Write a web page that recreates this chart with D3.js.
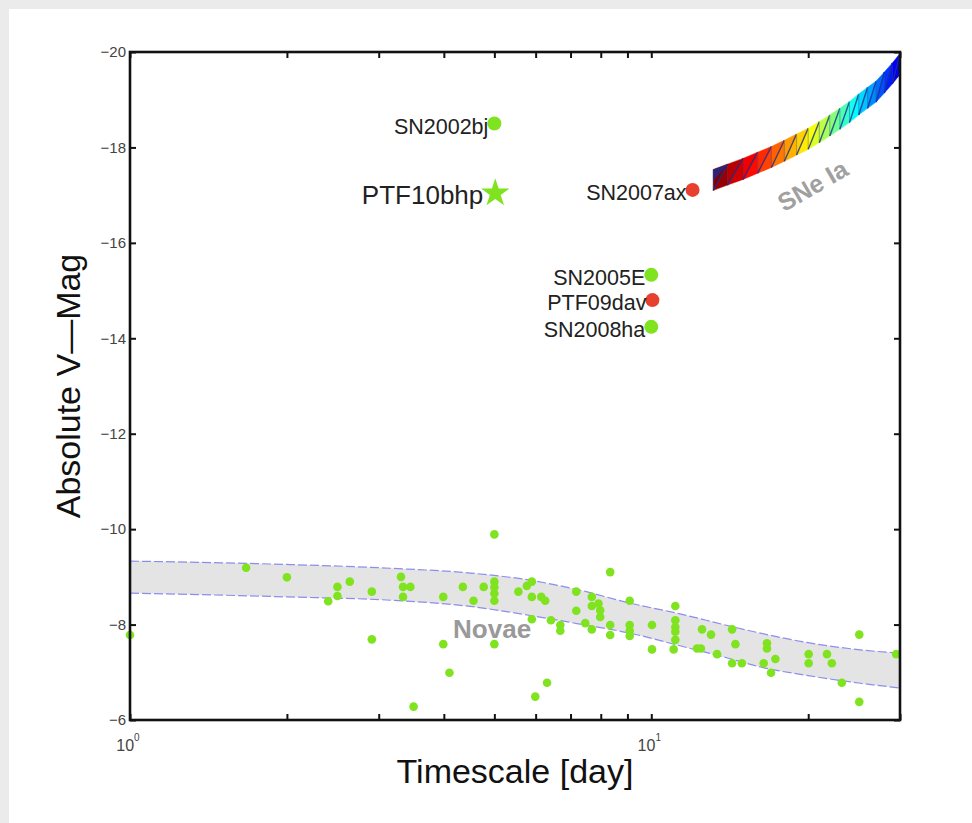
<!DOCTYPE html>
<html>
<head>
<meta charset="utf-8">
<script src="https://cdn.jsdelivr.net/npm/d3@7"></script>
<style>
  html, body { margin: 0; padding: 0; background: #ebebeb; }
  #chart { position: absolute; left: 9px; top: 9px; }
  text { font-family: "Liberation Sans", Arial, Helvetica, sans-serif; }
</style>
</head>
<body>
<div id="chart"></div>
<script>
'use strict';

// named transients (timescale in days, peak absolute V mag)
var greenEvents = [
  {name: "SN2002bj", t: 5.0, mag: -18.5},
  {name: "SN2005E",  t: 10.0, mag: -15.33},
  {name: "SN2008ha", t: 10.0, mag: -14.24}
];
var redEvents = [
  {name: "SN2007ax", t: 12.0, mag: -17.11},
  {name: "PTF09dav", t: 10.05, mag: -14.80}
];
var starEvent = {name: "PTF10bhp", t: 5.02, mag: -17.04};

// novae scatter [timescale, mag]
var novae = [
  [1.0,-7.78],[1.67,-9.19],[2.0,-8.99],[2.40,-8.49],[2.50,-8.79],[2.50,-8.60],[2.64,-8.90],
  [2.91,-8.69],[2.91,-7.69],[3.31,-9.0],[3.34,-8.79],[3.45,-8.79],[3.34,-8.58],[3.50,-6.28],
  [3.99,-7.59],[3.99,-8.58],[4.10,-6.99],[4.35,-8.79],[4.56,-8.50],[4.77,-8.79],[5.0,-9.89],
  [5.0,-8.90],[5.0,-8.78],[5.0,-8.65],[5.0,-8.50],[5.0,-7.59],[5.56,-8.69],[5.77,-8.81],
  [5.90,-8.90],[5.90,-8.58],[5.90,-8.11],[6.15,-8.58],[6.26,-8.50],[5.99,-6.49],[6.31,-6.78],
  [6.42,-8.09],[6.69,-7.99],[6.69,-7.87],[7.18,-8.69],[7.18,-8.29],[7.47,-8.03],[7.69,-7.90],
  [7.69,-8.58],[7.69,-8.39],[7.92,-8.44],[7.98,-8.30],[7.98,-8.16],[8.34,-9.10],[8.34,-7.99],
  [8.34,-7.78],[9.09,-8.50],[9.09,-7.99],[9.09,-7.87],[9.09,-7.76],[10.03,-7.99],[10.03,-7.48],
  [11.12,-8.39],[11.12,-8.09],[11.12,-7.95],[11.12,-7.85],[11.12,-7.68],[11.04,-7.48],
  [12.51,-7.90],[12.24,-7.50],[12.45,-7.50],[13.02,-7.79],[13.37,-7.38],[14.29,-7.90],
  [14.50,-7.59],[14.29,-7.19],[14.92,-7.19],[16.67,-7.61],[16.67,-7.50],[16.43,-7.19],
  [17.3,-7.28],[16.97,-6.99],[20.04,-7.38],[20.04,-7.19],[21.73,-7.38],[22.2,-7.19],
  [23.2,-6.78],[25.06,-7.79],[25.06,-6.38],[29.5,-7.38]
];

// novae band edges
var novaeBandT     = [1, 2, 3.16, 4.5, 5.86, 7.3, 9.1, 11.4, 14, 16.2, 20, 25.2, 30];
var novaeBandUpper = [-9.33, -9.26, -9.18, -9.08, -8.93, -8.72, -8.45, -8.22, -7.98, -7.82, -7.62, -7.47, -7.40];
var novaeBandLower = [-8.66, -8.58, -8.51, -8.38, -8.19, -8.01, -7.82, -7.55, -7.30, -7.11, -6.93, -6.77, -6.67];

// SNe Ia template track (centre line) and half width in mag
var snIaT   = [13.15, 14, 15, 16, 17, 18, 19, 20, 21, 22, 23, 24, 25, 26, 27, 28, 29, 30];
var snIaMag = [-17.32, -17.43, -17.55, -17.68, -17.80, -17.93, -18.06, -18.18, -18.32, -18.46,
               -18.60, -18.74, -18.90, -19.04, -19.17, -19.36, -19.55, -19.75];
var snIaHalf = 0.22;

var xTicks = [1, 2, 3, 4, 5, 6, 7, 8, 9, 10, 20, 30];
var xLabelTicks = [1, 10];
var yTicks = [-20, -18, -16, -14, -12, -10, -8, -6];

var W = 963, H = 814;
var margin = {left: 121, top: 43, right: 72, bottom: 103};
var width = W - margin.left - margin.right,   // 770
    height = H - margin.top - margin.bottom;  // 668

var GREEN = "#7fe31f", RED = "#e8402e";

var svg = d3.select("#chart").append("svg")
    .attr("width", W).attr("height", H)
    .style("background", "#fff");

var g = svg.append("g").attr("transform", "translate(" + margin.left + "," + margin.top + ")");

var x = d3.scaleLog().domain([1, 30]).range([0, width]);
var y = d3.scaleLinear().domain([-20, -6]).range([0, height]);

svg.append("defs").append("clipPath").attr("id", "plotClip")
  .append("rect").attr("width", width).attr("height", height);

var plot = g.append("g").attr("clip-path", "url(#plotClip)");

// novae band
var bandIdx = d3.range(novaeBandT.length);
plot.append("path")
    .datum(bandIdx)
    .attr("fill", "#e4e4e4")
    .attr("d", d3.area()
      .curve(d3.curveMonotoneX)
      .x(function(i) { return x(novaeBandT[i]); })
      .y0(function(i) { return y(novaeBandLower[i]); })
      .y1(function(i) { return y(novaeBandUpper[i]); }));

[novaeBandUpper, novaeBandLower].forEach(function(edge) {
  plot.append("path")
      .datum(bandIdx)
      .attr("fill", "none")
      .attr("stroke", "#7474ee")
      .attr("stroke-width", 1.2)
      .attr("stroke-dasharray", "9 3")
      .attr("stroke-opacity", 0.8)
      .attr("d", d3.line()
        .curve(d3.curveMonotoneX)
        .x(function(i) { return x(novaeBandT[i]); })
        .y(function(i) { return y(edge[i]); }));
});

// SNe Ia coloured track
function jet(v) {
  var c = function(s) { return Math.round(255 * Math.max(0, Math.min(1, s))); };
  return d3.rgb(c(1.5 - Math.abs(4 * v - 3)), c(1.5 - Math.abs(4 * v - 2)), c(1.5 - Math.abs(4 * v - 1)));
}
var nSeg = snIaT.length - 1;
var tracks = plot.append("g");
for (var i = 0; i < nSeg; i++) {
  var x0 = x(snIaT[i]), x1 = x(snIaT[i + 1]);
  var a = [x0, y(snIaMag[i] - snIaHalf)], b = [x1, y(snIaMag[i + 1] - snIaHalf)],
      c = [x1, y(snIaMag[i + 1] + snIaHalf)], d = [x0, y(snIaMag[i] + snIaHalf)];
  var v = 1.0 - 0.88 * (i / (nSeg - 1));
  tracks.append("path")
      .attr("d", "M" + [a, b, d].join("L") + "Z")
      .attr("fill", jet(v)).attr("stroke", jet(v)).attr("stroke-width", 0.5);
  tracks.append("path")
      .attr("d", "M" + [b, c, d].join("L") + "Z")
      .attr("fill", jet(Math.max(0, v - 0.025))).attr("stroke", jet(v)).attr("stroke-width", 0.5);
  tracks.append("path")
      .attr("d", "M" + [b, d].join("L"))
      .attr("stroke", "#1c2a8c").attr("stroke-width", 1.4).attr("stroke-opacity", 0.8);
  tracks.append("path")
      .attr("d", "M" + [a, d].join("L"))
      .attr("stroke", "#1c2a8c").attr("stroke-width", 0.8).attr("stroke-opacity", 0.45);
}
// small navy cap at the faint end of the track
tracks.append("path")
    .attr("d", "M" + [[x(snIaT[0]), y(snIaMag[0] - snIaHalf)], [x(snIaT[1]), y(snIaMag[1] - snIaHalf)],
                      [x(snIaT[0]), y(snIaMag[0] + snIaHalf * 0.1)]].join("L") + "Z")
    .attr("fill", "#1c2a8c").attr("fill-opacity", 0.85);

// labels inside plot
plot.append("text")
    .attr("x", x(4.95)).attr("y", y(-7.72))
    .attr("text-anchor", "middle")
    .attr("font-size", 26).attr("font-weight", "bold")
    .attr("fill", "#999")
    .text("Novae");

plot.append("text")
    .attr("transform", "translate(" + x(20.4) + "," + y(-17.2) + ") rotate(-30)")
    .attr("text-anchor", "middle")
    .attr("dy", "0.35em")
    .attr("font-size", 25).attr("font-weight", "bold")
    .attr("fill", "#a0a0a0")
    .text("SNe Ia");

// novae points
g.append("g").selectAll("circle")
    .data(novae)
  .enter().append("circle")
    .attr("cx", function(d) { return x(d[0]); })
    .attr("cy", function(d) { return y(d[1]); })
    .attr("r", 4.3)
    .attr("fill", GREEN);

// named events
function labelled(sel, fill) {
  sel.append("circle")
      .attr("cx", function(d) { return x(d.t); })
      .attr("cy", function(d) { return y(d.mag); })
      .attr("r", 7)
      .attr("fill", fill);
  sel.append("text")
      .attr("x", function(d) { return x(d.t) - 6; })
      .attr("y", function(d) { return y(d.mag) + 10; })
      .attr("text-anchor", "end")
      .attr("font-size", 21.5)
      .attr("fill", "#222")
      .text(function(d) { return d.name; });
}
g.append("g").selectAll("g").data(greenEvents).enter().append("g").call(labelled, GREEN);
g.append("g").selectAll("g").data(redEvents).enter().append("g").call(labelled, RED);

g.append("path")
    .attr("transform", "translate(" + x(starEvent.t) + "," + y(starEvent.mag) + ")")
    .attr("d", d3.symbol().type(d3.symbolStar).size(250)())
    .attr("fill", GREEN);
g.append("text")
    .attr("x", x(starEvent.t) - 12).attr("y", y(starEvent.mag) + 11)
    .attr("text-anchor", "end")
    .attr("font-size", 26)
    .attr("fill", "#222")
    .text(starEvent.name);

// axes (ticks inward, box frame)
function styleAxis(sel) {
  sel.select(".domain").remove();
  sel.selectAll(".tick line").attr("stroke", "#111").attr("stroke-width", 2);
}
g.append("g").attr("transform", "translate(0," + height + ")")
    .call(d3.axisBottom(x).tickValues(xTicks).tickSize(-6).tickFormat(""))
    .call(styleAxis);
g.append("g")
    .call(d3.axisTop(x).tickValues(xTicks).tickSize(-6).tickFormat(""))
    .call(styleAxis);
g.append("g")
    .call(d3.axisLeft(y).tickValues(yTicks).tickSize(-6).tickPadding(4)
      .tickFormat(function(d) { return "\u2212" + Math.abs(d); }))
    .call(styleAxis)
    .selectAll("text")
      .attr("font-size", 15).attr("fill", "#444")
      .attr("font-family", "'Liberation Sans', Arial, sans-serif");
g.append("g").attr("transform", "translate(" + width + ",0)")
    .call(d3.axisRight(y).tickValues(yTicks).tickSize(-6).tickFormat(""))
    .call(styleAxis);

g.append("rect")
    .attr("width", width).attr("height", height)
    .attr("fill", "none").attr("stroke", "#111").attr("stroke-width", 2.6);

// decade labels 10^n
var dec = g.append("g").selectAll("text").data(xLabelTicks).enter().append("text")
    .attr("x", function(d) { return x(d) - 2; })
    .attr("y", height + 31)
    .attr("text-anchor", "middle")
    .attr("font-size", 16)
    .attr("fill", "#444");
dec.append("tspan").text("10");
dec.append("tspan").attr("dy", -10).attr("font-size", 10)
    .text(function(d) { return Math.round(Math.log10(d)); });

// axis titles
g.append("text")
    .attr("x", width / 2).attr("y", height + 63)
    .attr("text-anchor", "middle")
    .attr("font-size", 34)
    .attr("fill", "#111")
    .text("Timescale [day]");

g.append("text")
    .attr("transform", "translate(-50," + (height / 2) + ") rotate(-90)")
    .attr("text-anchor", "middle")
    .attr("font-size", 34)
    .attr("fill", "#111")
    .text("Absolute V\u2014Mag");
</script>
</body>
</html>
